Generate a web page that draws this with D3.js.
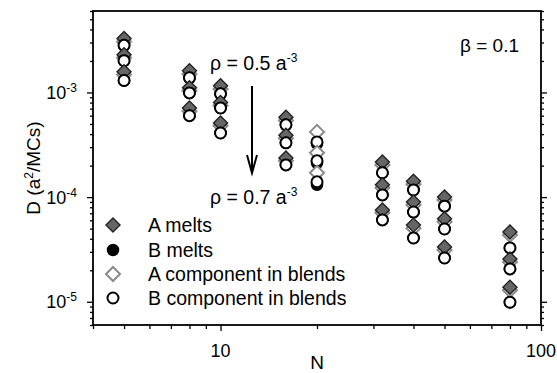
<!DOCTYPE html>
<html>
<head>
<meta charset="utf-8">
<script src="https://cdn.jsdelivr.net/npm/d3@7"></script>
<style>
  html, body { margin: 0; padding: 0; background: #fff; }
  svg { display: block; font-family: "Liberation Sans", Arial, sans-serif; }
</style>
</head>
<body>
<svg id="chart" width="557" height="373"></svg>
<script>
// Chain lengths
const chainN = [5, 8, 10, 16, 20, 32, 40, 50, 80];
// Densities (a^-3); each row below holds one density, ordered as chainN
const densities = [0.5, 0.6, 0.7];

// Diffusion coefficients D (a^2/MCs)
const aMelts = [
  [3.27e-3, 1.61e-3, 1.16e-3, 5.8e-4, null, 2.17e-4, 1.42e-4, 1.0e-4, 4.65e-5],
  [2.29e-3, 1.11e-3, 8.0e-4, 3.9e-4, null, 1.31e-4, 9.0e-5, 6.2e-5, 2.56e-5],
  [1.58e-3, 7.1e-4, 5.1e-4, 2.37e-4, null, 7.55e-5, 5.4e-5, 3.34e-5, 1.38e-5]
];
const bMelts = [
  [2.82e-3, 1.38e-3, 9.7e-4, 4.9e-4, 3.23e-4, 1.71e-4, 1.17e-4, 8.2e-5, 3.27e-5],
  [2.01e-3, 9.9e-4, 7.1e-4, 3.3e-4, 2.12e-4, 1.05e-4, 7.2e-5, 4.96e-5, 2.06e-5],
  [1.30e-3, 6.0e-4, 4.1e-4, 2.03e-4, 1.31e-4, 6.06e-5, 4.07e-5, 2.62e-5, 9.9e-6]
];
const aBlends = [
  [3.05e-3, 1.50e-3, 1.08e-3, 5.4e-4, 4.2e-4, 2.03e-4, 1.33e-4, 9.4e-5, 4.35e-5],
  [2.15e-3, 1.04e-3, 7.5e-4, 3.65e-4, 2.65e-4, 1.23e-4, 8.4e-5, 5.8e-5, 2.4e-5],
  [1.48e-3, 6.6e-4, 4.8e-4, 2.22e-4, 1.71e-4, 7.1e-5, 5.05e-5, 3.12e-5, 1.29e-5]
];
const bBlends = [
  [2.82e-3, 1.38e-3, 9.7e-4, 4.9e-4, 3.37e-4, 1.71e-4, 1.17e-4, 8.2e-5, 3.27e-5],
  [2.01e-3, 9.9e-4, 7.1e-4, 3.3e-4, 2.22e-4, 1.05e-4, 7.2e-5, 4.96e-5, 2.06e-5],
  [1.30e-3, 6.0e-4, 4.1e-4, 2.03e-4, 1.40e-4, 6.06e-5, 4.07e-5, 2.62e-5, 9.9e-6]
];

const seriesNames = ["A melts", "B melts", "A component in blends", "B component in blends"];
const xTickLabels = ["10", "100"];
const yTickExponents = [-3, -4, -5];

const svg = d3.select("#chart");
const margin = { left: 93, top: 11, right: 16, bottom: 48 };
const W = 557, H = 373;
const iw = W - margin.left - margin.right;
const ih = H - margin.top - margin.bottom;

const x = d3.scaleLog().domain([4, 100]).range([margin.left, margin.left + iw]);
const y = d3.scaleLog().domain([6e-6, 6e-3]).range([margin.top + ih, margin.top]);

// minor / major tick positions
const xMinor = [];
[1, 10].forEach(d => { for (let k = 2; k <= 9; k++) { const v = d * k; if (v >= 4 && v < 100) xMinor.push(v); } });
const yMinor = [];
[1e-6, 1e-5, 1e-4, 1e-3].forEach(d => { for (let k = 2; k <= 9; k++) { const v = d * k; if (v >= 6e-6 && v <= 6e-3) yMinor.push(v); } });
const yMajor = yTickExponents.map(e => Math.pow(10, e));
const xMajor = xTickLabels.map(Number);

const g = svg.append("g");

function styleAxis(sel) {
  sel.select(".domain").remove();
  sel.selectAll("line").attr("stroke", "#000").attr("stroke-width", 1.3);
}

// bottom
g.append("g").attr("transform", `translate(0,${margin.top + ih})`)
  .call(d3.axisBottom(x).tickValues(xMinor).tickSize(4).tickFormat("")).call(styleAxis);
g.append("g").attr("transform", `translate(0,${margin.top + ih})`)
  .call(d3.axisBottom(x).tickValues(xMajor).tickSize(6).tickFormat("")).call(styleAxis);
// left
g.append("g").attr("transform", `translate(${margin.left},0)`)
  .call(d3.axisLeft(y).tickValues(yMinor).tickSize(3).tickFormat("")).call(styleAxis);
g.append("g").attr("transform", `translate(${margin.left},0)`)
  .call(d3.axisLeft(y).tickValues(yMajor).tickSize(6).tickFormat("")).call(styleAxis);
// right
g.append("g").attr("transform", `translate(${margin.left + iw},0)`)
  .call(d3.axisRight(y).tickValues(yMinor).tickSize(3).tickFormat("")).call(styleAxis);
g.append("g").attr("transform", `translate(${margin.left + iw},0)`)
  .call(d3.axisRight(y).tickValues(yMajor).tickSize(6).tickFormat("")).call(styleAxis);

// x tick labels
xMajor.forEach((v, i) => {
  g.append("text").attr("x", x(v)).attr("y", 357)
    .attr("text-anchor", "middle").attr("font-size", 18).text(xTickLabels[i]);
});
// y tick labels 10^e
yMajor.forEach((v, i) => {
  const t = g.append("text").attr("x", 77).attr("y", y(v) + 6.5)
    .attr("text-anchor", "end").attr("font-size", 18);
  t.append("tspan").text("10");
  t.append("tspan").attr("font-size", 12).attr("dy", -7).text(String(yTickExponents[i]));
});

// frame
g.append("rect").attr("x", margin.left).attr("y", margin.top)
  .attr("width", iw).attr("height", ih)
  .attr("fill", "none").attr("stroke", "#000").attr("stroke-width", 1.8);

// axis titles
g.append("text").attr("x", x(Math.sqrt(4 * 100))).attr("y", 369)
  .attr("text-anchor", "middle").attr("font-size", 19).text("N");
const yl = g.append("text")
  .attr("transform", `translate(40,${margin.top + ih / 2}) rotate(-90)`)
  .attr("text-anchor", "middle").attr("font-size", 19);
yl.append("tspan").text("D  (a");
yl.append("tspan").attr("font-size", 12).attr("dy", -7).text("2");
yl.append("tspan").attr("dy", 7).text("/MCs)");

// markers
const diamondPath = "M0,-7L7,0L0,7L-7,0Z";
const styles = {
  aMelt:  { shape: "diamond", fill: "#666", stroke: "#222", sw: 1.4 },
  bMelt:  { shape: "circle", fill: "#000", stroke: "#000", sw: 1.5 },
  aBlend: { shape: "diamond", fill: "#fff", stroke: "#8a8a8a", sw: 2 },
  bBlend: { shape: "circle", fill: "#fff", stroke: "#000", sw: 2 }
};
function drawMark(sel, st, cx, cy) {
  if (st.shape === "circle") {
    sel.append("circle").attr("cx", cx).attr("cy", cy).attr("r", 5.5)
      .attr("fill", st.fill).attr("stroke", st.stroke).attr("stroke-width", st.sw);
  } else {
    sel.append("path").attr("d", diamondPath).attr("transform", `translate(${cx},${cy})`)
      .attr("fill", st.fill).attr("stroke", st.stroke).attr("stroke-width", st.sw);
  }
}

const marks = g.append("g");
densities.forEach((rho, r) => {
  chainN.forEach((n, i) => {
    const cx = x(n);
    if (aBlends[r][i] != null) drawMark(marks, styles.aBlend, cx, y(aBlends[r][i]));
    if (aMelts[r][i] != null) drawMark(marks, styles.aMelt, cx, y(aMelts[r][i]));
    if (bMelts[r][i] != null) drawMark(marks, styles.bMelt, cx, y(bMelts[r][i]));
    if (bBlends[r][i] != null) drawMark(marks, styles.bBlend, cx, y(bBlends[r][i]));
  });
});

// legend
const legendStyles = [styles.aMelt, styles.bMelt, styles.aBlend, styles.bBlend];
const legendY = [225, 250, 274, 298];
seriesNames.forEach((name, i) => {
  drawMark(g, legendStyles[i], 113, legendY[i]);
  g.append("text").attr("x", 148).attr("y", legendY[i] + 7)
    .attr("font-size", 19.5).text(name);
});

// density annotation and arrow
function rhoLabel(xp, yp, val) {
  const t = g.append("text").attr("x", xp).attr("y", yp).attr("font-size", 19.5);
  t.append("tspan").text(`ρ = ${val} a`);
  t.append("tspan").attr("font-size", 12).attr("dy", -8).text("-3");
}
rhoLabel(210, 70, "0.5");
rhoLabel(210, 204, "0.7");
g.append("line").attr("x1", 252).attr("y1", 86).attr("x2", 252).attr("y2", 172)
  .attr("stroke", "#000").attr("stroke-width", 2);
g.append("path").attr("d", "M247,155 L252,173 L257,155")
  .attr("fill", "none").attr("stroke", "#000").attr("stroke-width", 2);

g.append("text").attr("x", 460).attr("y", 52).attr("font-size", 19).text("β = 0.1");
</script>
</body>
</html>
